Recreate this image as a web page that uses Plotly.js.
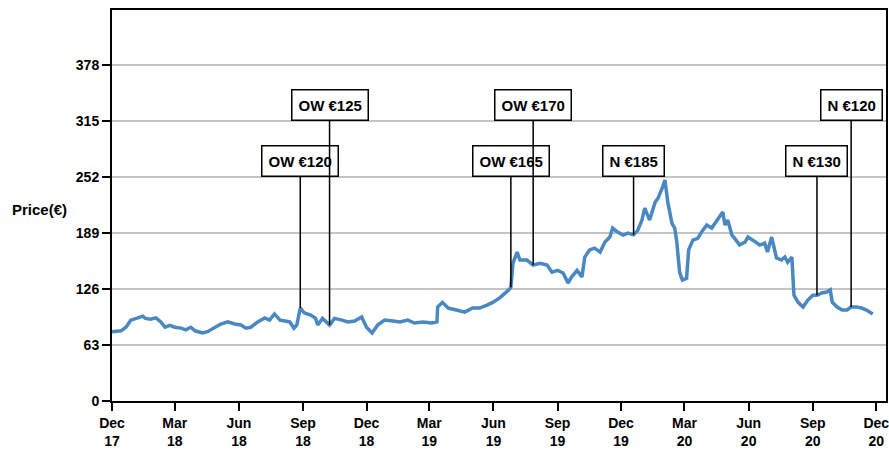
<!DOCTYPE html>
<html>
<head>
<meta charset="utf-8">
<script src="https://cdn.plot.ly/plotly-3.0.1.min.js"></script>
<style>html,body{margin:0;padding:0;background:#fff;}#chart{width:889px;height:453px;}</style>
</head>
<body>
<div id="chart"></div>
<script>
// Price series
const dates = [
 '2017-12-01','2017-12-14','2017-12-21','2017-12-28','2018-01-07','2018-01-14','2018-01-18','2018-01-25','2018-02-02','2018-02-09',
 '2018-02-15','2018-02-22','2018-03-01','2018-03-10','2018-03-17','2018-03-24','2018-03-30','2018-04-10','2018-04-17','2018-04-27',
 '2018-05-06','2018-05-16','2018-05-26','2018-06-04','2018-06-11','2018-06-18','2018-06-28','2018-07-08','2018-07-15','2018-07-22',
 '2018-07-30','2018-08-06','2018-08-13','2018-08-19','2018-08-23','2018-08-28','2018-09-03','2018-09-12','2018-09-19','2018-09-22',
 '2018-09-29','2018-10-09','2018-10-16','2018-10-27','2018-11-04','2018-11-14','2018-11-24','2018-12-01','2018-12-09','2018-12-17',
 '2018-12-27','2019-01-08','2019-01-18','2019-01-29','2019-02-08','2019-02-20','2019-03-05','2019-03-12','2019-03-13','2019-03-20',
 '2019-03-28','2019-04-09','2019-04-21','2019-05-02','2019-05-12','2019-05-23','2019-05-31','2019-06-10','2019-06-20','2019-06-23',
 '2019-06-26','2019-06-29','2019-07-05','2019-07-09','2019-07-19','2019-07-28','2019-08-07','2019-08-17','2019-08-24','2019-09-01',
 '2019-09-09','2019-09-16','2019-09-21','2019-09-29','2019-10-06','2019-10-10','2019-10-17','2019-10-24','2019-11-01','2019-11-08',
 '2019-11-15','2019-11-19','2019-11-26','2019-12-04','2019-12-11','2019-12-19','2019-12-25','2019-12-31','2020-01-04','2020-01-11',
 '2020-01-19','2020-01-23','2020-01-29','2020-02-02','2020-02-06','2020-02-12','2020-02-16','2020-02-19','2020-02-23','2020-02-27',
 '2020-03-04','2020-03-07','2020-03-13','2020-03-20','2020-03-27','2020-04-02','2020-04-09','2020-04-16','2020-04-20','2020-04-25',
 '2020-04-28','2020-05-02','2020-05-08','2020-05-12','2020-05-19','2020-05-27','2020-05-31','2020-06-07','2020-06-17','2020-06-24',
 '2020-06-28','2020-07-04','2020-07-11','2020-07-18','2020-07-23','2020-07-27','2020-08-02','2020-08-05','2020-08-11','2020-08-18',
 '2020-08-25','2020-09-01','2020-09-07','2020-09-14','2020-09-21','2020-09-26','2020-09-29','2020-10-06','2020-10-13','2020-10-20',
 '2020-10-26','2020-11-03','2020-11-10','2020-11-17','2020-11-26'
];
const prices = [
 78,79,83,91,93.5,95.5,93,92,93.5,89,
 83,85,83,82,80,83,79,76.5,78,82,
 86.6,89,86.6,85.5,82,83,89,93.5,91,98,
 91,90,89,82,85.5,104.6,99,96.7,93,85.5,
 93,85.5,93,91,89,90,94.5,83,76.5,85.5,
 91,90,89,91,87.7,89,87.7,89,105.7,111,
 104.6,102.4,100,104.6,104.6,108,111,116,122.6,125,
 128,155,167.6,158.6,158.6,153,155,153,145,147,
 144,132.8,139.5,147,139.5,162,170,172,167.6,179,
 184.5,194.6,190,186.7,189,187,192,203.6,217,203.6,
 224,228,239.6,248.6,224,200,194.6,179,145,136,
 138,170,181,183,192,198,194.6,203.6,207,212.6,
 198,203.6,186.7,183,175.5,179,184.5,181,175.5,177.7,
 167.6,184.5,161,158.6,162,156,162,119,111,105.7,
 113.6,119,119,121.5,122.6,125,111,105.7,102.4,102.4,
 105.7,105.7,104.6,102.4,98
];

// Rating call-outs
const noteText  = ['OW €120','OW €125','OW €165','OW €170','N €185','N €130','N €120'];
const noteDates = ['2018-08-28','2018-10-09','2019-06-26','2019-07-28','2019-12-19','2020-09-07','2020-10-26'];
const notePrice = [104.6,85.5,128,153,187,119,105.7];
const noteRow   = ['low','high','low','high','low','low','high'];

// Axis ticks
const yTicks = [0,63,126,189,252,315,378];
const xTickVals = ['2017-12-01','2018-03-01','2018-06-01','2018-09-01','2018-12-01','2019-03-01','2019-06-01','2019-09-01','2019-12-01','2020-03-01','2020-06-01','2020-09-01','2020-12-01'];
const xTickText = ['Dec<br>17','Mar<br>18','Jun<br>18','Sep<br>18','Dec<br>18','Mar<br>19','Jun<br>19','Sep<br>19','Dec<br>19','Mar<br>20','Jun<br>20','Sep<br>20','Dec<br>20'];

const FONT = 'Liberation Sans, Arial, sans-serif';

const annotations = noteText.map((t, i) => ({
  x: noteDates[i], y: notePrice[i], xref: 'x', yref: 'y',
  axref: 'x', ayref: 'y', ax: noteDates[i], ay: noteRow[i] === 'high' ? 333 : 270,
  text: '<b>' + t + '</b>', showarrow: true, arrowhead: 0, arrowwidth: 1.5, arrowcolor: '#000',
  standoff: 0, startstandoff: 0,
  font: {family: FONT, size: 15, color: '#000'},
  bgcolor: '#fff', bordercolor: '#000', borderwidth: 1.5, borderpad: 6
}));
annotations.push({
  xref: 'paper', yref: 'paper', x: -0.094, y: 0.491, xanchor: 'center', yanchor: 'middle',
  text: '<b>Price(€)</b>', showarrow: false, font: {family: FONT, size: 15, color: '#000'}
});

const trace = {
  x: dates, y: prices, type: 'scatter', mode: 'lines',
  line: {color: '#4a88c2', width: 3.5}, hoverinfo: 'skip'
};

const layout = {
  width: 889, height: 453,
  margin: {l: 112, r: 3, t: 10, b: 52},
  paper_bgcolor: '#fff', plot_bgcolor: '#fff',
  showlegend: false,
  font: {family: FONT, size: 14, color: '#000'},
  xaxis: {
    type: 'date', range: ['2017-12-01', '2020-12-15'],
    tickvals: xTickVals, ticktext: xTickText,
    tickfont: {family: FONT, size: 14, color: '#000', weight: 'bold'},
    ticklabeloverflow: 'allow',
    ticks: 'outside', ticklen: 8, tickwidth: 2, tickcolor: '#000',
    showline: true, linecolor: '#000', linewidth: 2, mirror: true,
    showgrid: false, zeroline: false
  },
  yaxis: {
    range: [0, 440], tickvals: yTicks, ticktext: yTicks.map(String),
    tickfont: {family: FONT, size: 14, color: '#000', weight: 'bold'},
    ticks: 'outside', ticklen: 8, tickwidth: 2, tickcolor: '#000',
    showline: true, linecolor: '#000', linewidth: 2, mirror: true,
    showgrid: true, gridcolor: '#c4c4c4', gridwidth: 1.5, zeroline: false
  },
  annotations: annotations
};

Plotly.newPlot('chart', [trace], layout, {displayModeBar: false, staticPlot: true});
</script>
</body>
</html>
